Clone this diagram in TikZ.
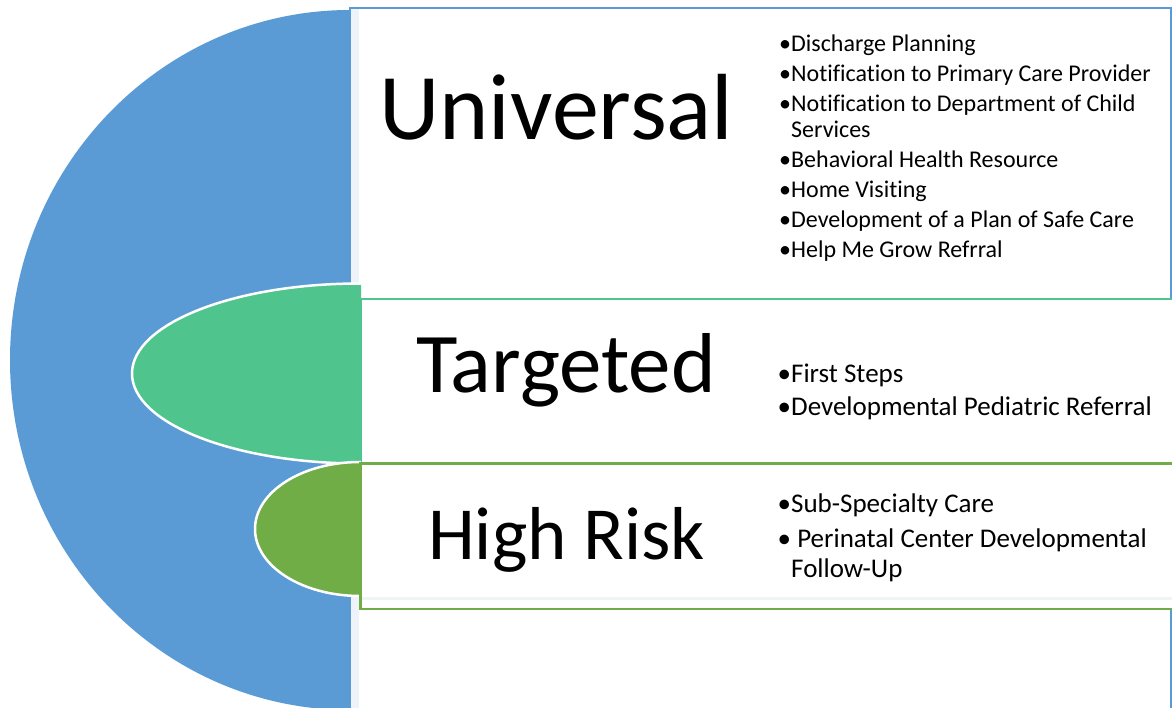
\documentclass[tikz,border=0pt]{standalone}
\usepackage{fontspec}
\setmainfont[Ligatures={NoCommon,NoRare}]{Carlito}
\definecolor{cblue}{HTML}{5B9BD5}
\definecolor{cgreen}{HTML}{4FC48D}
\definecolor{colive}{HTML}{70AD47}
\definecolor{cpale}{HTML}{EEF3FA}
\definecolor{cpaleg}{HTML}{EEF6F3}
\begin{document}
\begin{tikzpicture}[x=1pt,y=1pt,
  title/.style={anchor=base west,inner sep=0pt,font=\fontsize{#1}{#1}\selectfont},
  item/.style={anchor=base west,inner sep=0pt,align=left,font=\fontsize{24}{#1}\selectfont},
  item/.default=26,
  bigitem/.style={anchor=base west,inner sep=0pt,align=left,font=\fontsize{27}{#1}\selectfont},
  bigitem/.default=30]
\useasboundingbox (0,0) rectangle (1172,-708);
\clip (0,0) rectangle (1172,-708);
\fill[white] (0,0) rectangle (1172,-708);
% blue half ellipse
\fill[cblue] (350,-10) arc[start angle=90,end angle=270,x radius=340,y radius=350] -- cycle;
% universal box
\draw[cblue,line width=2pt,fill=white] (349.5,-8) rectangle (1170.5,-720);
\fill[cpale] (351,-9) rectangle (359,-712);
% targeted
\begin{scope}
\clip (0,0) rectangle (361,-708);
\fill[cgreen,draw=white,line width=2.5pt] (360,-373.5) ellipse[x radius=228,y radius=90];
\end{scope}
\draw[cgreen,line width=2pt,fill=white] (361,-299.5) rectangle (1185,-463);
% high risk
\begin{scope}
\clip (0,0) rectangle (361,-708);
\fill[colive,draw=white,line width=2.5pt] (360,-529) ellipse[x radius=105,y radius=67];
\end{scope}
\draw[colive,line width=2.5pt,fill=white] (360.5,-463.5) rectangle (1185,-609);
\fill[cpaleg] (362,-597) rectangle (1172,-600);
% titles
\node[title=94] (tu) at (379,-140) {Universal};
\node[title=85] (tt) at (416,-392) {Targeted};
\node[title=75] (th) at (428,-559) {High Risk};
% universal items
\node[item] (u1) at (779,-52) {•Discharge Planning};
\node[item] (u2) at (779,-82) {•Notification to Primary Care Provider};
\node[item] (u3) at (779,-138) {•Notification to Department of Child\\\hspace*{12pt}Services};
\node[item] (u4) at (779,-168) {•Behavioral Health Resource};
\node[item] (u5) at (779,-198) {•Home Visiting};
\node[item] (u6) at (779,-228) {•Development of a Plan of Safe Care};
\node[item] (u7) at (779,-258) {•Help Me Grow Refrral};
% targeted items
\node[bigitem] (t1) at (777.5,-382) {•First Steps};
\node[bigitem] (t2) at (777.5,-415) {•Developmental Pediatric Referral};
% high risk items
\node[bigitem] (h1) at (777.5,-512) {•Sub-Specialty Care};
\node[bigitem] (h2) at (777.5,-577) {• Perinatal Center Developmental\\\hspace*{13.5pt}Follow-Up};
\end{tikzpicture}
\end{document}
